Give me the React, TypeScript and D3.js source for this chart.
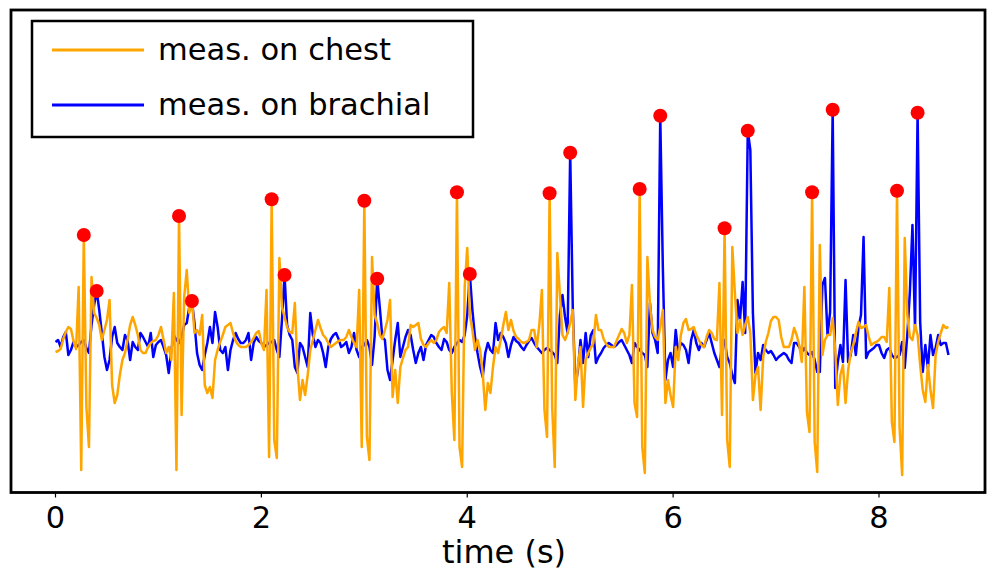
import React from "react";
import * as d3 from "d3";

// sampling step of both recordings (s)
const DT = 0.025;

// chest sensor signal (arbitrary units, baseline 0)
const chest = [
  -0.07, -0.06, -0.04, 0.06, 0.13, 0.18, 0.16, 0.04, -0.04, 0.58,
  -1.25, 1.1, -0.62, -1.02, 0.68, 0.32, 0.27, 0.2, 0.05, 0.15,
  0.25, 0.45, -0.4, -0.58, -0.5, -0.3, -0.15, -0.08, 0.05, 0.2,
  0.28, 0.2, 0.1, -0.05, -0.08, -0.08, -0.02, 0.02, 0.04, 0.05,
  0.1, 0.18, 0.05, -0.08, -0.02, -0.15, 0.52, -1.25, 1.29, -0.7,
  0.48, 0.75, 0.32, 0.48, 0.12, 0.15, 0.1, 0.3, -0.4, -0.48,
  -0.42, -0.53, -0.15, -0.05, 0.03, 0.1, 0.18, 0.2, 0.22, 0.12,
  0.04, 0.0, -0.02, -0.02, -0.02, 0.0, 0.03, 0.07, 0.12, 0.14,
  0.02, -0.05, 0.55, -1.12, 1.457, -0.95, -1.13, 0.87, 0.38, 0.28,
  0.18, 0.13, 0.12, 0.42, -0.22, -0.55, -0.35, -0.5, -0.3, -0.05,
  0.05, 0.15, 0.25, 0.17, 0.1, 0.07, 0.02, -0.02, 0.0, 0.02,
  0.04, 0.05, 0.05, 0.08, 0.15, 0.08, 0.02, -0.02, 0.55, -1.02,
  1.443, -0.92, -1.15, 0.88, 0.3, 0.22, 0.1, 0.06, 0.15, 0.25,
  0.45, -0.52, -0.25, -0.58, -0.22, -0.13, -0.05, -0.02, 0.2, 0.18,
  0.2, 0.22, 0.06, 0.0, -0.02, 0.02, 0.05, 0.02, 0.05, 0.13,
  0.16, 0.18, 0.12, 0.62, -0.48, -0.95, 1.527, -1.02, -1.22, 0.58,
  0.97, 0.3, 0.15, -0.05, 0.05, -0.05, -0.28, -0.65, -0.38, -0.48,
  -0.22, -0.02, -0.08, 0.05, 0.2, 0.33, 0.15, 0.25, 0.14, 0.08,
  0.06, 0.03, 0.02, 0.03, 0.05, 0.15, 0.15, -0.02, 0.2, 0.55,
  -0.65, -0.92, 1.517, -0.62, -1.22, 0.92, 0.5, 0.1, 0.05, 0.12,
  0.22, 0.35, -0.55, -0.2, -0.02, -0.62, -0.15, -0.08, -0.03, 0.02,
  0.3, 0.15, 0.15, 0.06, 0.01, -0.02, -0.02, -0.02, 0.04, 0.1,
  0.16, 0.12, 0.02, 0.1, 0.6, -0.58, -0.72, 1.56, -1.02, -1.28,
  0.88, 0.4, 0.15, 0.08, 0.05, 0.18, 0.35, -0.58, -0.35, -0.5,
  -0.62, -0.02, -0.15, 0.1, 0.22, 0.26, 0.15, 0.16, 0.18, 0.1,
  0.05, 0.0, -0.02, 0.08, 0.15, 0.12, 0.06, 0.05, 0.62, -0.7,
  1.167, -0.95, -1.22, 0.98, 0.52, 0.12, 0.25, 0.1, 0.2, 0.28,
  0.12, -0.55, -0.3, -0.22, -0.65, -0.12, 0.03, 0.12, 0.24, 0.28,
  0.28, 0.25, 0.08, -0.02, -0.02, -0.02, 0.05, 0.17, 0.1, 0.0,
  -0.17, 0.58, -0.67, -0.87, 1.527, -0.97, -1.27, 1.0, -0.1, 0.05,
  0.1, 0.1, 0.27, -0.05, -0.6, -0.3, -0.2, -0.58, -0.25, -0.08,
  0.0, 0.12, 0.23, 0.17, 0.18, 0.2, 0.08, 0.0, 0.02, 0.03,
  0.05, 0.08, 0.08, 0.03, 0.57, -0.77, -0.97, 1.543, -0.83, -1.3,
  1.07, 0.3, 0.08, 0.05, 0.2, 0.1, -0.2, -0.45, -0.57, -0.2,
  -0.45, -0.63, -0.1, 0.03, 0.12, 0.2, 0.17, 0.18,
];

// brachial sensor signal (arbitrary units, baseline 0)
const brachial = [
  0.03, 0.05, -0.02, 0.08, 0.13, -0.1, -0.05, 0.03, -0.02, 0.0,
  0.03, 0.05, -0.03, -0.08, 0.2, 0.4, 0.54, 0.35, 0.12, -0.12,
  -0.25, -0.15, 0.08, 0.18, 0.02, -0.02, -0.05, 0.1, 0.05, -0.15,
  0.03, -0.02, -0.05, 0.12, 0.08, 0.03, -0.02, 0.12, -0.12, 0.0,
  0.03, 0.05, -0.02, -0.1, -0.28, -0.05, 0.1, 0.05, 0.02, 0.08,
  0.2, 0.22, 0.38, 0.44, 0.22, -0.08, -0.2, -0.25, -0.1, 0.02,
  0.18, 0.02, 0.33, 0.18, -0.05, -0.08, -0.02, -0.25, -0.05, 0.05,
  0.12, 0.06, 0.02, 0.02, 0.05, 0.12, -0.15, 0.02, 0.08, 0.04,
  0.02, -0.02, 0.0, 0.02, 0.03, 0.05, -0.05, -0.12, 0.25, 0.7,
  0.2, 0.1, 0.05, -0.22, -0.28, 0.02, -0.02, -0.12, -0.22, 0.32,
  0.1, -0.02, 0.05, 0.02, -0.08, -0.22, -0.02, 0.06, 0.1, 0.12,
  0.06, -0.02, 0.0, 0.03, -0.08, -0.02, 0.12, -0.05, -0.12, -0.02,
  0.0, 0.05, -0.02, -0.2, 0.08, 0.663, 0.38, 0.08, 0.05, -0.25,
  -0.35, -0.15, 0.05, 0.22, -0.12, -0.02, 0.08, 0.15, 0.1, -0.05,
  -0.18, -0.08, -0.02, -0.15, 0.0, 0.05, 0.1, 0.08, 0.02, -0.02,
  -0.05, 0.06, 0.03, -0.05, -0.08, -0.02, 0.02, 0.05, 0.03, 0.1,
  0.3, 0.71, 0.35, 0.08, -0.08, -0.22, -0.32, -0.08, 0.02, -0.05,
  -0.08, 0.22, 0.05, 0.12, 0.08, 0.02, -0.12, 0.0, 0.08, 0.04,
  0.02, -0.02, -0.05, 0.0, 0.04, 0.07, 0.02, -0.02, -0.05, -0.08,
  -0.05, -0.03, -0.05, -0.07, -0.1, -0.18, 0.3, 0.5, 0.28, 0.12,
  1.923, 0.38, -0.42, -0.25, 0.05, -0.18, 0.12, -0.12, 0.1, 0.15,
  -0.18, -0.12, -0.08, -0.03, 0.0, 0.02, 0.0, -0.02, 0.0, 0.03,
  0.05, 0.0, -0.05, -0.1, -0.18, 0.02, -0.02, -0.05, -0.08, -0.1,
  -0.22, 0.42, 0.12, 0.05, -0.08, 2.293, 0.78, -0.35, -0.15, -0.08,
  -0.22, 0.15, -0.08, 0.02, 0.0, -0.05, -0.18, 0.05, 0.15, 0.02,
  -0.05, 0.02, -0.02, 0.05, 0.12, 0.02, -0.08, -0.15, -0.22, 0.0,
  0.05, -0.12, -0.18, -0.3, -0.38, 0.45, 0.25, 0.63, 0.12, 2.143,
  1.95, 0.32, -0.28, -0.08, -0.15, 0.0, -0.05, -0.08, -0.06, -0.1,
  -0.15, -0.12, -0.1, -0.08, -0.1, -0.15, -0.18, 0.02, 0.02, -0.02,
  -0.07, -0.03, -0.08, -0.1, -0.07, -0.15, -0.27, -0.27, 0.6, 0.67,
  0.1, 0.33, 2.353, -0.43, -0.17, 0.0, -0.17, 0.65, -0.17, -0.1,
  0.1, -0.1, 0.17, 0.3, 1.08, -0.13, -0.07, -0.05, -0.03, 0.0,
  0.0, -0.08, -0.13, -0.05, -0.03, -0.1, -0.13, -0.12, -0.1, 0.03,
  -0.23, 0.1, 0.53, 1.2, 0.17, 2.323, 0.23, -0.27, 0.0, -0.23,
  0.1, -0.1, -0.03, 0.1, 0.0, 0.02, 0.02, -0.1,
];

// indices of detected peaks (red markers)
const chestPeaks = [11, 48, 84, 120, 156, 192, 227, 260, 294, 327];
const brachialPeaks = [16, 53, 89, 125, 161, 200, 235, 269, 302, 335];

const xTicks = [0, 2, 4, 6, 8];
const xLabel = "time (s)";
const seriesNames = ["meas. on chest", "meas. on brachial"];
const seriesColors = ["orange", "blue"];

const FONT = "'DejaVu Sans', sans-serif";

export default function App() {
  const W = 989;
  const H = 575;
  const left = 11;
  const right = 985;
  const top = 10;
  const bottom = 492.5;

  const x = d3.scaleLinear().domain([0, 8]).range([55.5, 879]);
  const y = d3.scaleLinear().domain([-1.47, 3.37]).range([492, 8]);

  const line = d3
    .line<number>()
    .x((_, i) => x(i * DT))
    .y((v) => y(v));

  const pts = (arr: number[], idx: number[]) =>
    idx.map((i) => ({ cx: x(i * DT), cy: y(arr[i]) }));

  return (
    <svg
      width={W}
      height={H}
      style={{ position: "absolute", left: 0, top: 0, background: "white" }}
      fontFamily={FONT}
    >
      <rect x={0} y={0} width={W} height={H} fill="white" />
      <path d={line(brachial) || ""} fill="none" stroke={seriesColors[1]} strokeWidth={2.5} strokeLinejoin="round" />
      <path d={line(chest) || ""} fill="none" stroke={seriesColors[0]} strokeWidth={2.5} strokeLinejoin="round" />
      {pts(chest, chestPeaks).map((p, k) => (
        <circle key={"c" + k} cx={p.cx} cy={p.cy} r={7} fill="red" />
      ))}
      {pts(brachial, brachialPeaks).map((p, k) => (
        <circle key={"b" + k} cx={p.cx} cy={p.cy} r={7} fill="red" />
      ))}
      <rect
        x={left}
        y={top}
        width={right - left}
        height={bottom - top}
        fill="none"
        stroke="black"
        strokeWidth={2.8}
      />
      {xTicks.map((t) => (
        <g key={t} transform={`translate(${x(t)},${bottom})`}>
          <line y1={0} y2={5} stroke="black" strokeWidth={1.2} />
          <text y={35} textAnchor="middle" fontSize={30.5} fill="black">
            {t}
          </text>
        </g>
      ))}
      <text x={504} y={563} textAnchor="middle" fontSize={32} fill="black">
        {xLabel}
      </text>
      <g>
        <rect x={32} y={21} width={441} height={116} fill="white" stroke="black" strokeWidth={2.5} />
        {seriesNames.map((name, k) => (
          <g key={name} transform={`translate(0,${50 + k * 55})`}>
            <line x1={52} x2={144} y1={0} y2={0} stroke={seriesColors[k]} strokeWidth={2.8} />
            <text x={158} y={10} fontSize={30.5} fill="black">
              {name}
            </text>
          </g>
        ))}
      </g>
    </svg>
  );
}
